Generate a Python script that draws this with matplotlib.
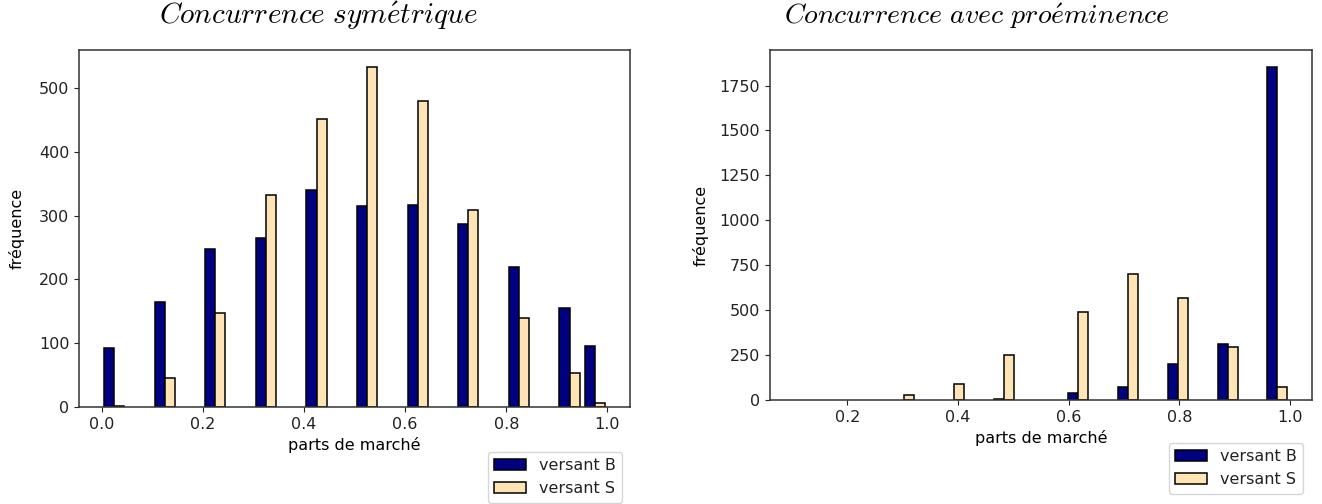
import numpy as np
import matplotlib
matplotlib.use("Agg")
import matplotlib.pyplot as plt
from matplotlib.patches import Patch

plt.rcParams['mathtext.fontset'] = 'cm'
plt.rcParams['font.size'] = 11.5
plt.rcParams['text.color'] = '#222222'
plt.rcParams['xtick.color'] = '#222222'
plt.rcParams['ytick.color'] = '#222222'
plt.rcParams['axes.edgecolor'] = '#333333'
plt.rcParams['axes.linewidth'] = 1.1

## Histogram counts, 20 bins each (empty bins are 0)
# symmetric competition: shares between 0 and 1
sym_range = (0.0, 1.0)
sym_B = [93, 0, 165, 0, 247, 0, 265, 0, 340, 0, 315, 0, 317, 0, 287, 0, 219, 0, 155, 96]
sym_S = [2, 0, 46, 0, 147, 0, 332, 0, 451, 0, 533, 0, 479, 0, 309, 0, 140, 0, 54, 7]

# competition with prominence: shares between 0.1 and 1
pro_range = (0.1, 1.0)
pro_B = [0, 0, 0, 0, 0, 0, 0, 0, 5, 0, 0, 37, 0, 72, 0, 198, 0, 313, 0, 1855]
pro_S = [0, 0, 0, 0, 26, 0, 87, 0, 250, 0, 0, 491, 0, 699, 0, 565, 0, 295, 0, 70]

labels = ["versant B", "versant S"]
colors = ["navy", "moccasin"]

W, H = 1322, 504
fig = plt.figure(figsize=(W / 100, H / 100), dpi=100)


def px_axes(x0, y0, x1, y1):
    # axes from pixel box (top-left origin)
    return fig.add_axes([x0 / W, 1 - y1 / H, (x1 - x0) / W, (y1 - y0) / H])


def plotHist(ax, rng, countsB, countsS, ypad):
    edges = np.linspace(rng[0], rng[1], len(countsB) + 1)
    centers = (edges[:-1] + edges[1:]) / 2
    _, _, groups = ax.hist([centers, centers], bins=edges, weights=[countsB, countsS],
                           color=colors, edgecolor="black", linewidth=1.1)
    # empty bins: no outline along the axis
    for bars in groups:
        for p in bars:
            if p.get_height() == 0:
                p.set_visible(False)
    ax.set_xlabel("parts de marché")
    ax.set_ylabel("fréquence", labelpad=ypad)


def addLegend(ax, x, y):
    handles = [Patch(facecolor=c, edgecolor="black", linewidth=1.1, label=l)
               for c, l in zip(colors, labels)]
    ax.legend(handles=handles, loc="upper right", bbox_to_anchor=(x / W, 1 - y / H),
              bbox_transform=fig.transFigure, borderaxespad=0)


ax1 = px_axes(79, 50, 630, 407)
plotHist(ax1, sym_range, sym_B, sym_S, 10)
addLegend(ax1, 622, 452)

ax2 = px_axes(770, 50, 1312, 400)
plotHist(ax2, pro_range, pro_B, pro_S, 8)
ax2.set_yticks(np.arange(0, 1751, 250))
addLegend(ax2, 1303, 443)

fig.text(318 / W, 1 - 16 / H, r"$Concurrence\ sym\acute{e}trique$",
         ha="center", va="center", fontsize=21, color="black")
fig.text(977 / W, 1 - 16 / H, r"$Concurrence\ avec\ pro\acute{e}minence$",
         ha="center", va="center", fontsize=20, color="black")

fig.savefig("out.png", dpi=100)
